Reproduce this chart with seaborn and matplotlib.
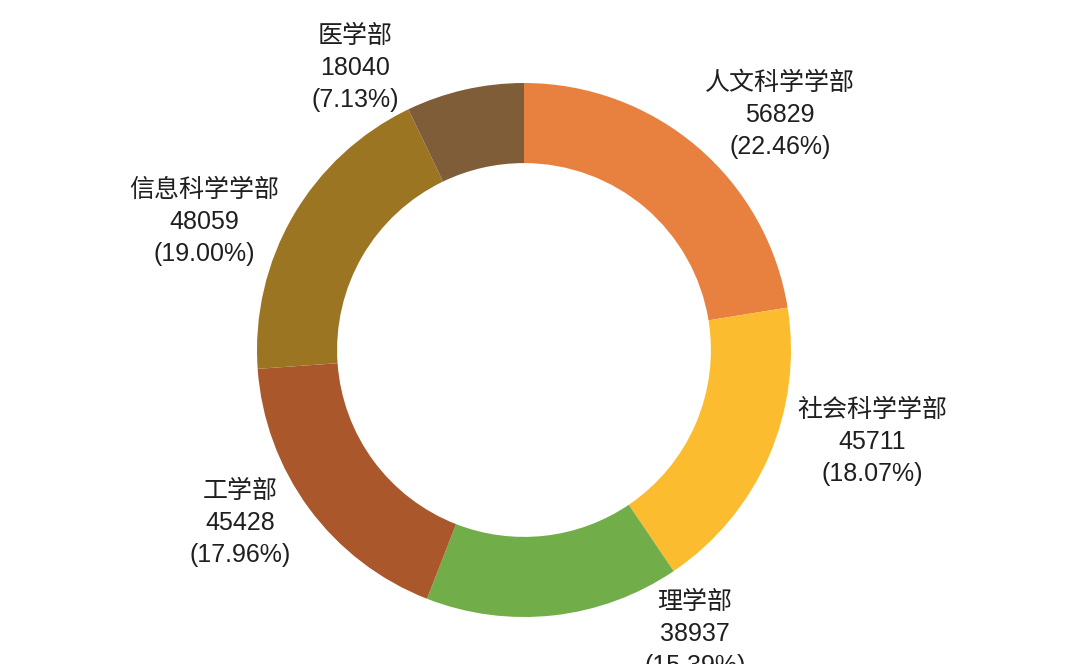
import matplotlib
matplotlib.use("Agg")
import matplotlib.pyplot as plt
import seaborn as sns
import numpy as np

# Faculty names and their counts, clockwise from 12 o'clock
departments = ["人文科学学部", "社会科学学部", "理学部", "工学部", "信息科学学部", "医学部"]
counts = [56829, 45711, 38937, 45428, 48059, 18040]
colors = ["#E8803F", "#FBBD2F", "#71AD48", "#AA582B", "#9B7522", "#805D39"]

# Label anchor points (in units of the outer radius, relative to the centre)
label_x = [0.959, 1.303, 0.64, -1.064, -1.198, -0.633]
label_y = [0.880, -0.345, -1.062, -0.648, 0.479, 1.056]

sns.set_theme(style="white")
plt.rcParams["font.family"] = ["Liberation Sans", "Noto Sans CJK SC"]

fig = plt.figure(figsize=(10.8, 6.64), dpi=100)
ax = fig.add_axes([0, 0, 1, 1])

ax.pie(
    counts,
    colors=colors,
    startangle=90,
    counterclock=False,
    radius=1.0,
    wedgeprops=dict(width=0.30, edgecolor="none"),
)

total = sum(counts)
for name, val, lx, ly in zip(departments, counts, label_x, label_y):
    pct = val / total * 100
    ax.text(lx, ly, f"{name}\n{val}\n({pct:.2f}%)",
            ha="center", va="center", fontsize=18, color="#1f1f1f",
            linespacing=1.42)

ax.set_xlim(-524 / 267, (1080 - 524) / 267)
ax.set_ylim(-314 / 267, 350 / 267)
ax.set_aspect("equal")
ax.axis("off")

fig.savefig("out.png", dpi=100, facecolor="white")
